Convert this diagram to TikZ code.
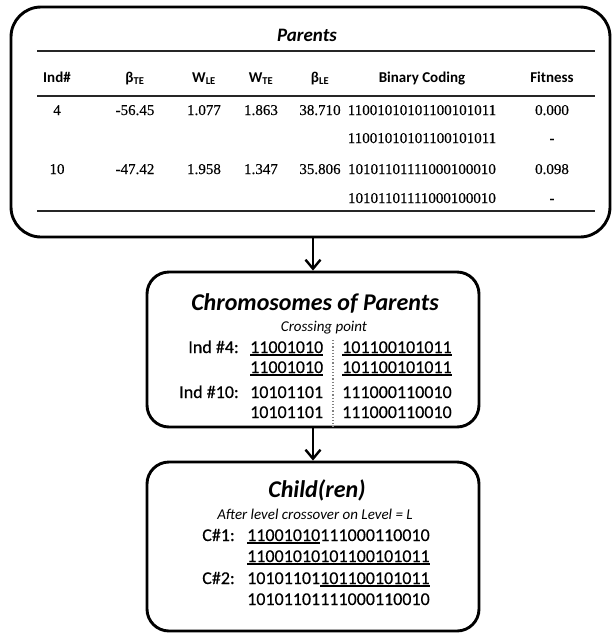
\documentclass[tikz,border=0pt]{standalone}
\usepackage{fontspec}
\setmainfont{Carlito}
\newfontfamily\serifdata{Liberation Serif}[FakeBold=0.35]
\newfontfamily\heavy{Carlito}[FakeBold=0.4]
\usetikzlibrary{arrows.meta}
% underline drawn as a solid rule under a string of bits
\newcommand\bitline[1]{\setbox0\hbox{#1}\rlap{\rule[-3.2pt]{\wd0}{1.8pt}}\box0\relax}

\begin{document}
\begin{tikzpicture}[x=1pt,y=-1pt,
  box/.style={draw=black, line width=2.9pt, inner sep=0pt},
  flow/.style={line width=2.4pt, -{Straight Barb[length=9pt,width=15pt,line width=2.4pt]}},
  tabrule/.style={line width=1.9pt, black!85},
  crossline/.style={line width=1.2pt, gray, dotted},
  maintitle/.style={font=\fontsize{19}{21}\selectfont\bfseries\itshape, anchor=base},
  hdr/.style={font=\fontsize{15}{17}\selectfont\bfseries, anchor=base},
  cell/.style={font=\serifdata\fontsize{15}{17}\selectfont, anchor=base},
  ttl/.style={font=\fontsize{24}{26}\selectfont\bfseries\itshape, anchor=base},
  subttl/.style={font=\fontsize{15}{17}\selectfont\itshape, anchor=base},
  lbl/.style={font=\heavy\fontsize{18}{20}\selectfont, anchor=base east, inner sep=0pt},
  bits/.style={font=\heavy\fontsize{18}{20}\selectfont, anchor=base west, inner sep=0pt},
]
\useasboundingbox (0,0) rectangle (612,633);

% ---- boxes ----
\node[box, rounded corners=30pt, minimum width=599pt, minimum height=230pt] (parents) at (310.5,122) {};
\node[box, rounded corners=22pt, minimum width=332pt, minimum height=155pt] (chrom) at (313,349.5) {};
\node[box, rounded corners=22pt, minimum width=332pt, minimum height=169pt] (child) at (313,546.5) {};

% ---- connectors ----
\draw[flow] (chrom.north |- parents.south) -- (chrom.north);
\draw[flow] (chrom.south) -- (child.north);

% ---- parents table ----
\node[maintitle] (ptitle) at (307,41) {Parents};
\draw[tabrule] (37,51) -- (595,51);
\draw[tabrule] (37,96) -- (595,96);
\draw[tabrule] (37,211) -- (595,211);

\node[hdr] (h1) at (57,82) {Ind\#};
\node[hdr] (h2) at (135,82) {β\textsubscript{TE}};
\node[hdr] (h3) at (204,82) {W\textsubscript{LE}};
\node[hdr] (h4) at (261,82) {W\textsubscript{TE}};
\node[hdr] (h5) at (320,82) {β\textsubscript{LE}};
\node[hdr] (h6) at (422,82) {Binary Coding};
\node[hdr] (h7) at (552,82) {Fitness};

\node[cell] (r1a) at (57,115) {4};
\node[cell] (r1b) at (135,115) {-56.45};
\node[cell] (r1c) at (204,115) {1.077};
\node[cell] (r1d) at (261,115) {1.863};
\node[cell] (r1e) at (320,115) {38.710};
\node[cell] (r1f) at (422,115) {11001010101100101011};
\node[cell] (r1g) at (552,115) {0.000};
\node[cell] (r2f) at (422,143) {11001010101100101011};
\node[cell] (r2g) at (552,143) {-};

\node[cell] (r3a) at (57,174) {10};
\node[cell] (r3b) at (135,174) {-47.42};
\node[cell] (r3c) at (204,174) {1.958};
\node[cell] (r3d) at (261,174) {1.347};
\node[cell] (r3e) at (320,174) {35.806};
\node[cell] (r3f) at (422,174) {10101101111000100010};
\node[cell] (r3g) at (552,174) {0.098};
\node[cell] (r4f) at (422,203) {10101101111000100010};
\node[cell] (r4g) at (552,203) {-};

% ---- chromosomes of parents ----
\node[ttl] (ctitle) at (315,310) {Chromosomes of Parents};
\node[subttl] (cpoint) at (324,331) {Crossing point};
\draw[crossline] (333,340) -- (333,427);

\node[lbl] (i4) at (239,353) {Ind \#4:};
\node[bits] (i4a) at (250,353) {\bitline{11001010}};
\node[bits] (i4b) at (342,353) {\bitline{101100101011}};
\node[bits] (i4c) at (250,373) {\bitline{11001010}};
\node[bits] (i4d) at (342,373) {\bitline{101100101011}};
\node[lbl] (i10) at (239,398) {Ind \#10:};
\node[bits] (i10a) at (250,398) {10101101};
\node[bits] (i10b) at (342,398) {111000110010};
\node[bits] (i10c) at (250,418) {10101101};
\node[bits] (i10d) at (342,418) {111000110010};

% ---- child(ren) ----
\node[ttl] (ktitle) at (317,497) {Child(ren)};
\node[subttl] (klevel) at (315,519) {After level crossover on Level = L};
\node[lbl] (c1) at (235,541) {C\#1:};
\node[bits] (c1a) at (247,541) {\bitline{11001010}111000110010};
\node[bits] (c1b) at (247,562) {\bitline{11001010101100101011}};
\node[lbl] (c2) at (235,584) {C\#2:};
\node[bits] (c2a) at (247,584) {10101101\bitline{101100101011}};
\node[bits] (c2b) at (247,605) {10101101111000110010};
\end{tikzpicture}
\end{document}
